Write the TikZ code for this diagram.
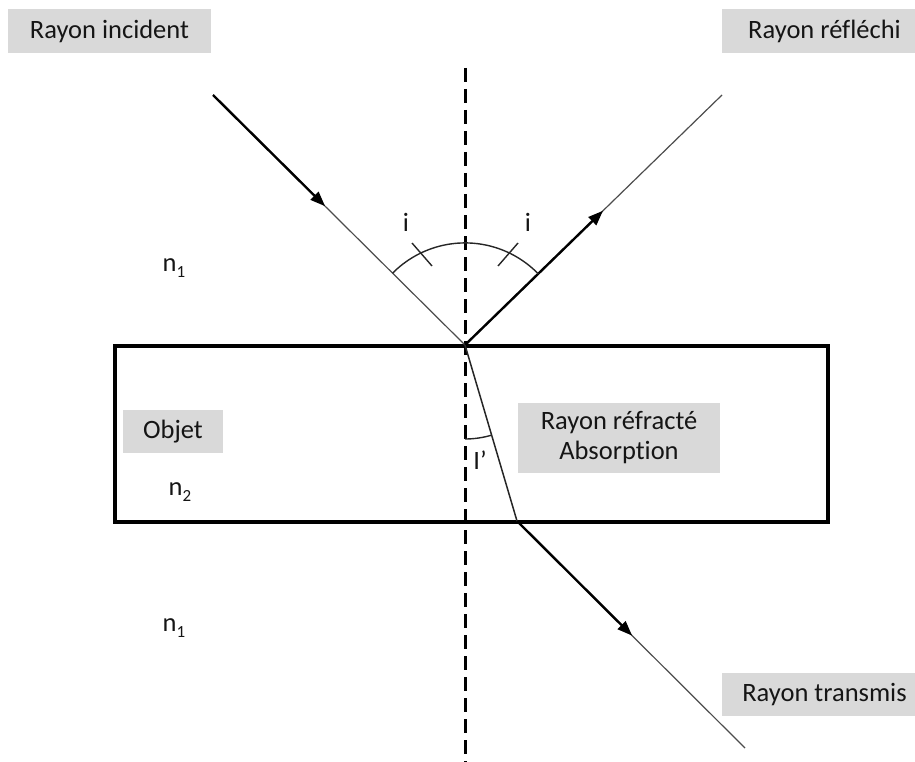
\documentclass[tikz,border=0pt]{standalone}
\usepackage{fontspec}
\setmainfont[Ligatures=NoCommon]{Carlito}
\usetikzlibrary{arrows.meta,calc}
\definecolor{boxgray}{HTML}{D9D9D9}
\definecolor{txt}{HTML}{151515}
\begin{document}
\begin{tikzpicture}[x=1pt,y=-1pt,
  lbl/.style={fill=boxgray, inner sep=0pt, align=center, font=\fontsize{26.5}{30}\selectfont, text=txt},
  plain/.style={inner sep=0pt, font=\fontsize{26.5}{30}\selectfont, text=txt},
  thinray/.style={line width=1.2pt, draw=black!70},
  thickray/.style={line width=2.4pt, draw=black, -{Triangle[length=15pt,width=11pt]}},
  normal/.style={line width=3pt, dash pattern=on 14pt off 7pt},
  block/.style={line width=4pt, draw=black},
  anglearc/.style={line width=1.4pt, draw=black!85}]
\useasboundingbox (0,0) rectangle (915,762);

% coordinates
\coordinate (A) at (213,95);
\coordinate (O) at (465,345);
\coordinate (R) at (722,95);
\coordinate (B) at (517,521);
\coordinate (T) at (745,748);
\coordinate (Ntop) at (465,68);
\coordinate (Nbot) at (465,762);

% object
\draw[block] (115,346) rectangle (828,522);

% normal
\draw[normal] (Ntop) -- (Nbot);

% rays
\draw[thinray] (A) -- (O);
\draw[thickray] (A) -- ($(A)!0.445!(O)$);
\draw[thinray] (O) -- (R);
\draw[thickray] (O) -- ($(O)!0.537!(R)$);
\draw[line width=1.5pt, draw=black!85] (O) -- (B);
\draw[thinray] (B) -- (T);
\draw[thickray] (B) -- ($(B)!0.505!(T)$);

% angle arcs
\draw[anglearc] ($(O)!102pt!(A)$) arc[start angle=224.7, end angle=315.9, radius=102];
\draw[anglearc] (412,243) -- (432,266);
\draw[anglearc] (518,243) -- (498,266);
\draw[anglearc] ($(O)+(0,94)$) arc[start angle=90, end angle=73.6, radius=94];

% labels
\node[lbl, minimum width=203pt, minimum height=44pt] (inc) at (109.5,31) {Rayon incident};
\node[lbl, minimum width=205pt, minimum height=44pt] (refl) at (824.5,31) {Rayon réfléchi};
\node[lbl, minimum width=205pt, minimum height=43pt] (trans) at (824.5,694.5) {Rayon transmis};
\node[lbl, minimum width=202pt, minimum height=70pt] (refr) at (619,438) {Rayon réfracté\\Absorption};
\node[lbl, minimum width=100pt, minimum height=43pt] (obj) at (173,431.5) {Objet};

\node[plain] (n1a) at (174,268) {n\raisebox{-0.22em}{\fontsize{17}{17}\selectfont 1}};
\node[plain] (n2) at (180,492) {n\raisebox{-0.22em}{\fontsize{17}{17}\selectfont 2}};
\node[plain] (n1b) at (174,628) {n\raisebox{-0.22em}{\fontsize{17}{17}\selectfont 1}};

\node[plain] (i1) at (406,222) {i};
\node[plain] (i2) at (528,222) {i};
\node[plain] (ip) at (480,460) {I’};
\end{tikzpicture}
\end{document}
